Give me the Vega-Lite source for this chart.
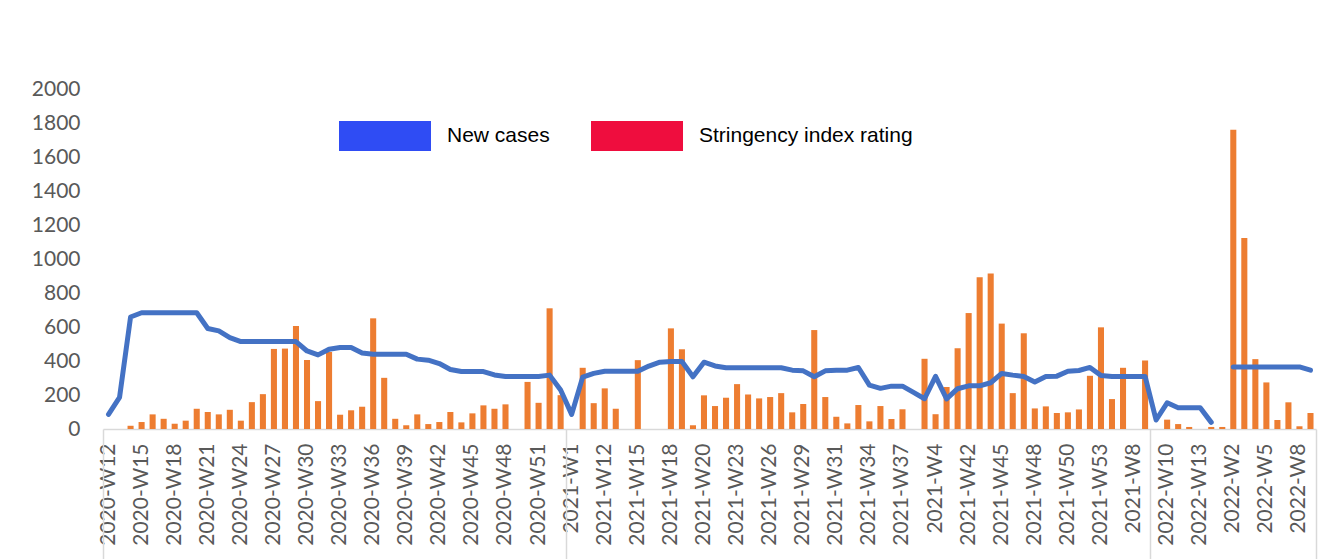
{
  "$schema": "https://vega.github.io/schema/vega-lite/v6.json",
  "autosize": "none",
  "width": 1213,
  "height": 340,
  "padding": {"left": 103, "top": 89, "right": 22, "bottom": 130},
  "background": "#ffffff",
  "config": {"view": {"stroke": null}},
  "datasets": {
    "weekly": [
      {"week": "2020-W12", "bar_value": 0, "line_value": 86},
      {"week": "2020-W13", "bar_value": 0, "line_value": 186},
      {"week": "2020-W14", "bar_value": 19, "line_value": 659},
      {"week": "2020-W15", "bar_value": 41, "line_value": 684},
      {"week": "2020-W16", "bar_value": 86, "line_value": 684},
      {"week": "2020-W17", "bar_value": 60, "line_value": 684},
      {"week": "2020-W18", "bar_value": 31, "line_value": 684},
      {"week": "2020-W19", "bar_value": 49, "line_value": 684},
      {"week": "2020-W20", "bar_value": 119, "line_value": 684},
      {"week": "2020-W21", "bar_value": 100, "line_value": 591},
      {"week": "2020-W22", "bar_value": 86, "line_value": 577},
      {"week": "2020-W23", "bar_value": 113, "line_value": 538},
      {"week": "2020-W24", "bar_value": 49, "line_value": 514},
      {"week": "2020-W25", "bar_value": 158, "line_value": 514},
      {"week": "2020-W26", "bar_value": 205, "line_value": 514},
      {"week": "2020-W27", "bar_value": 471, "line_value": 514},
      {"week": "2020-W28", "bar_value": 473, "line_value": 514},
      {"week": "2020-W29", "bar_value": 606, "line_value": 514},
      {"week": "2020-W30", "bar_value": 406, "line_value": 459},
      {"week": "2020-W31", "bar_value": 164, "line_value": 436},
      {"week": "2020-W32", "bar_value": 453, "line_value": 469},
      {"week": "2020-W33", "bar_value": 84, "line_value": 479},
      {"week": "2020-W34", "bar_value": 110, "line_value": 479},
      {"week": "2020-W35", "bar_value": 131, "line_value": 447},
      {"week": "2020-W36", "bar_value": 651, "line_value": 440},
      {"week": "2020-W37", "bar_value": 301, "line_value": 440},
      {"week": "2020-W38", "bar_value": 60, "line_value": 440},
      {"week": "2020-W39", "bar_value": 22, "line_value": 440},
      {"week": "2020-W40", "bar_value": 86, "line_value": 411},
      {"week": "2020-W41", "bar_value": 29, "line_value": 405},
      {"week": "2020-W42", "bar_value": 41, "line_value": 385},
      {"week": "2020-W43", "bar_value": 100, "line_value": 350},
      {"week": "2020-W44", "bar_value": 39, "line_value": 338},
      {"week": "2020-W45", "bar_value": 92, "line_value": 338},
      {"week": "2020-W46", "bar_value": 139, "line_value": 338},
      {"week": "2020-W47", "bar_value": 119, "line_value": 318},
      {"week": "2020-W48", "bar_value": 145, "line_value": 309},
      {"week": "2020-W49", "bar_value": 0, "line_value": 309},
      {"week": "2020-W50", "bar_value": 277, "line_value": 309},
      {"week": "2020-W51", "bar_value": 154, "line_value": 309},
      {"week": "2020-W52", "bar_value": 710, "line_value": 317},
      {"week": "2020-W53", "bar_value": 199, "line_value": 229},
      {"week": "2021-W1", "bar_value": 0, "line_value": 86},
      {"week": "2021-W10", "bar_value": 360, "line_value": 305},
      {"week": "2021-W11", "bar_value": 152, "line_value": 327},
      {"week": "2021-W12", "bar_value": 239, "line_value": 340},
      {"week": "2021-W13", "bar_value": 119, "line_value": 340},
      {"week": "2021-W14", "bar_value": 0, "line_value": 340},
      {"week": "2021-W15", "bar_value": 405, "line_value": 340},
      {"week": "2021-W16", "bar_value": 0, "line_value": 370},
      {"week": "2021-W17", "bar_value": 0, "line_value": 393},
      {"week": "2021-W18", "bar_value": 592, "line_value": 397},
      {"week": "2021-W19", "bar_value": 469, "line_value": 397},
      {"week": "2021-W2", "bar_value": 22, "line_value": 307},
      {"week": "2021-W20", "bar_value": 198, "line_value": 393},
      {"week": "2021-W21", "bar_value": 135, "line_value": 371},
      {"week": "2021-W22", "bar_value": 184, "line_value": 360},
      {"week": "2021-W23", "bar_value": 264, "line_value": 360},
      {"week": "2021-W24", "bar_value": 203, "line_value": 360},
      {"week": "2021-W25", "bar_value": 180, "line_value": 360},
      {"week": "2021-W26", "bar_value": 188, "line_value": 360},
      {"week": "2021-W27", "bar_value": 211, "line_value": 360},
      {"week": "2021-W28", "bar_value": 98, "line_value": 346},
      {"week": "2021-W29", "bar_value": 147, "line_value": 342},
      {"week": "2021-W3", "bar_value": 582, "line_value": 307},
      {"week": "2021-W30", "bar_value": 188, "line_value": 342},
      {"week": "2021-W31", "bar_value": 72, "line_value": 346},
      {"week": "2021-W32", "bar_value": 33, "line_value": 346},
      {"week": "2021-W33", "bar_value": 141, "line_value": 362},
      {"week": "2021-W34", "bar_value": 45, "line_value": 258},
      {"week": "2021-W35", "bar_value": 135, "line_value": 239},
      {"week": "2021-W36", "bar_value": 59, "line_value": 252},
      {"week": "2021-W37", "bar_value": 116, "line_value": 252},
      {"week": "2021-W38", "bar_value": 0, "line_value": 215},
      {"week": "2021-W39", "bar_value": 413, "line_value": 178},
      {"week": "2021-W4", "bar_value": 87, "line_value": 310},
      {"week": "2021-W40", "bar_value": 247, "line_value": 177},
      {"week": "2021-W41", "bar_value": 475, "line_value": 237},
      {"week": "2021-W42", "bar_value": 682, "line_value": 254},
      {"week": "2021-W43", "bar_value": 893, "line_value": 254},
      {"week": "2021-W44", "bar_value": 915, "line_value": 272},
      {"week": "2021-W45", "bar_value": 620, "line_value": 327},
      {"week": "2021-W46", "bar_value": 211, "line_value": 317},
      {"week": "2021-W47", "bar_value": 563, "line_value": 309},
      {"week": "2021-W48", "bar_value": 121, "line_value": 276},
      {"week": "2021-W49", "bar_value": 133, "line_value": 309},
      {"week": "2021-W5", "bar_value": 94, "line_value": 311},
      {"week": "2021-W50", "bar_value": 98, "line_value": 340},
      {"week": "2021-W51", "bar_value": 115, "line_value": 344},
      {"week": "2021-W52", "bar_value": 313, "line_value": 362},
      {"week": "2021-W53", "bar_value": 598, "line_value": 315},
      {"week": "2021-W6", "bar_value": 176, "line_value": 309},
      {"week": "2021-W7", "bar_value": 360, "line_value": 309},
      {"week": "2021-W8", "bar_value": 0, "line_value": 309},
      {"week": "2021-W9", "bar_value": 403, "line_value": 309},
      {"week": "2022-W1", "bar_value": 0, "line_value": 53},
      {"week": "2022-W10", "bar_value": 55, "line_value": 154},
      {"week": "2022-W11", "bar_value": 29, "line_value": 125},
      {"week": "2022-W12", "bar_value": 12, "line_value": 125},
      {"week": "2022-W13", "bar_value": 0, "line_value": 125},
      {"week": "2022-W14", "bar_value": 12, "line_value": 39},
      {"week": "2022-W15", "bar_value": 12, "line_value": null},
      {"week": "2022-W2", "bar_value": 1760, "line_value": 365},
      {"week": "2022-W3", "bar_value": 1124, "line_value": 365},
      {"week": "2022-W4", "bar_value": 411, "line_value": 365},
      {"week": "2022-W5", "bar_value": 274, "line_value": 365},
      {"week": "2022-W6", "bar_value": 53, "line_value": 365},
      {"week": "2022-W7", "bar_value": 157, "line_value": 365},
      {"week": "2022-W8", "bar_value": 16, "line_value": 365},
      {"week": "2022-W9", "bar_value": 94, "line_value": 346}
    ],
    "legend_items": [
      {"series": "New cases"},
      {"series": "Stringency index rating"}
    ]
  },
  "resolve": {"axis": {"x": "independent", "y": "independent"}},
  "layer": [
    {
      "data": {"name": "weekly"},
      "mark": {"type": "bar", "color": "#ED7D31", "width": {"band": 0.55}},
      "encoding": {
        "x": {
          "field": "week",
          "type": "nominal",
          "sort": null,
          "scale": {"paddingInner": 0, "paddingOuter": 0},
          "axis": {
            "orient": "bottom",
            "title": null,
            "values": ["2020-W12", "2020-W15", "2020-W18", "2020-W21", "2020-W24", "2020-W27", "2020-W30", "2020-W33", "2020-W36", "2020-W39", "2020-W42", "2020-W45", "2020-W48", "2020-W51", "2021-W1", "2021-W12", "2021-W15", "2021-W18", "2021-W20", "2021-W23", "2021-W26", "2021-W29", "2021-W31", "2021-W34", "2021-W37", "2021-W4", "2021-W42", "2021-W45", "2021-W48", "2021-W50", "2021-W53", "2021-W8", "2022-W10", "2022-W13", "2022-W2", "2022-W5", "2022-W8"],
            "labelAngle": -90,
            "labelFont": "Lato",
            "labelFontSize": 21,
            "labelColor": "#595959",
            "labelPadding": 14,
            "labelOverlap": false,
            "ticks": false,
            "tickSize": 0,
            "domain": true,
            "domainColor": "#d9d9d9",
            "domainWidth": 1.5,
            "grid": false
          }
        },
        "y": {
          "field": "bar_value",
          "type": "quantitative",
          "scale": {"domain": [0, 2000], "nice": false},
          "axis": {
            "orient": "left",
            "title": null,
            "format": "d",
            "values": [0, 200, 400, 600, 800, 1000, 1200, 1400, 1600, 1800, 2000],
            "grid": false,
            "domain": false,
            "ticks": false,
            "tickSize": 0,
            "labelPadding": 23,
            "labelFont": "Lato",
            "labelFontSize": 21,
            "labelColor": "#595959"
          }
        }
      }
    },
    {
      "data": {"name": "weekly"},
      "mark": {"type": "line", "color": "#4472C4", "strokeWidth": 5, "strokeCap": "round", "strokeJoin": "round", "invalid": "break-paths-show-domains"},
      "encoding": {
        "x": {
          "field": "week",
          "type": "nominal",
          "sort": null,
          "axis": {
            "orient": "bottom",
            "title": null,
            "values": ["2020-W12", "2021-W1", "2022-W1"],
            "bandPosition": 0,
            "labels": false,
            "domain": false,
            "grid": false,
            "ticks": true,
            "tickSize": 130,
            "tickColor": "#d9d9d9",
            "tickWidth": 1.5
          }
        },
        "y": {"field": "line_value", "type": "quantitative", "axis": null}
      }
    },
    {
      "data": {"name": "legend_items"},
      "mark": {"type": "point", "filled": true, "opacity": 0},
      "encoding": {
        "x": {
          "datum": "2022-W9",
          "type": "nominal",
          "axis": {
            "orient": "bottom",
            "title": null,
            "values": ["2022-W9"],
            "bandPosition": 1,
            "labels": false,
            "domain": false,
            "grid": false,
            "ticks": true,
            "tickSize": 130,
            "tickColor": "#d9d9d9",
            "tickWidth": 1.5
          }
        },
        "color": {
          "field": "series",
          "type": "nominal",
          "scale": {"domain": ["New cases", "Stringency index rating"], "range": ["#2F4CF4", "#EF0D3E"]},
          "legend": {
            "orient": "none",
            "legendX": 236,
            "legendY": 1,
            "direction": "horizontal",
            "title": null,
            "padding": 0,
            "symbolType": "M-1,-0.326H1V0.326H-1Z",
            "symbolSize": 8464,
            "symbolOpacity": 1,
            "symbolStrokeWidth": 0,
            "labelFont": "Liberation Sans",
            "labelFontSize": 21,
            "labelColor": "#000000",
            "labelOffset": 16,
            "labelLimit": 400,
            "columnPadding": 41
          }
        }
      }
    }
  ]
}
